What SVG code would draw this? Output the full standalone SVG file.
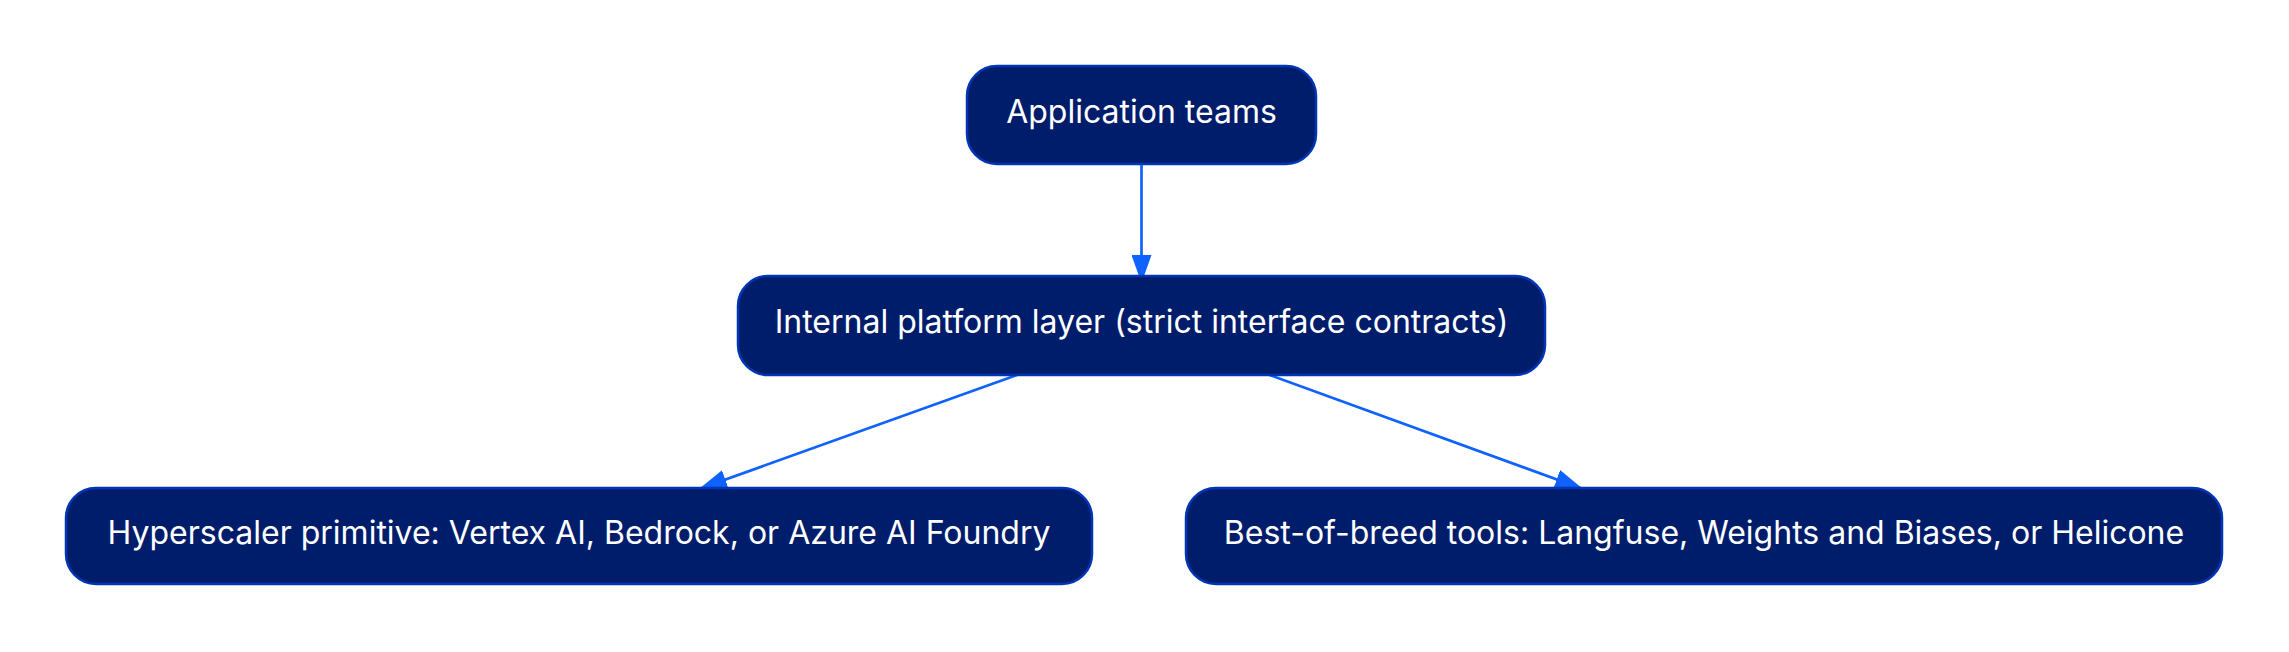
<svg xmlns="http://www.w3.org/2000/svg" width="2289" height="652" viewBox="0 0 2289 652">
<style>
.node rect{fill:#001d6c;stroke:#0035b5;stroke-width:2.5}
.node text{fill:#ffffff;font-family:Inter,"Liberation Sans",sans-serif;font-size:32px;text-anchor:middle}
.edge{stroke:#0f62fe;stroke-width:2.7;fill:none}
</style>
<defs>
<marker id="arr" viewBox="0 0 28 20" refX="28" refY="10" markerWidth="28" markerHeight="20" markerUnits="userSpaceOnUse" orient="auto">
<path d="M0,0 L28,10 L0,20 z" fill="#0f62fe"/>
</marker>
</defs>
<rect width="2289" height="652" fill="#ffffff"/>
<g id="connectors">
<line class="edge" x1="1141.5" y1="164" x2="1141.5" y2="283" marker-end="url(#arr)"/>
<line class="edge" x1="1017" y1="375" x2="699" y2="489" marker-end="url(#arr)"/>
<line class="edge" x1="1267" y1="374" x2="1583" y2="489" marker-end="url(#arr)"/>
</g>
<g id="app" class="node">
<rect x="967" y="66" width="349" height="98" rx="30"/>
<text x="1141.5" y="123">Application teams</text>
</g>
<g id="platform" class="node">
<rect x="738" y="276" width="807" height="99" rx="30"/>
<text x="1141.5" y="333">Internal platform layer (strict interface contracts)</text>
</g>
<g id="hyperscaler" class="node">
<rect x="66" y="488" width="1026" height="96" rx="30"/>
<text x="579" y="544">Hyperscaler primitive: Vertex AI, Bedrock, or Azure AI Foundry</text>
</g>
<g id="bestofbreed" class="node">
<rect x="1186" y="488" width="1036" height="96" rx="30"/>
<text x="1704" y="544">Best-of-breed tools: Langfuse, Weights and Biases, or Helicone</text>
</g>
</svg>
